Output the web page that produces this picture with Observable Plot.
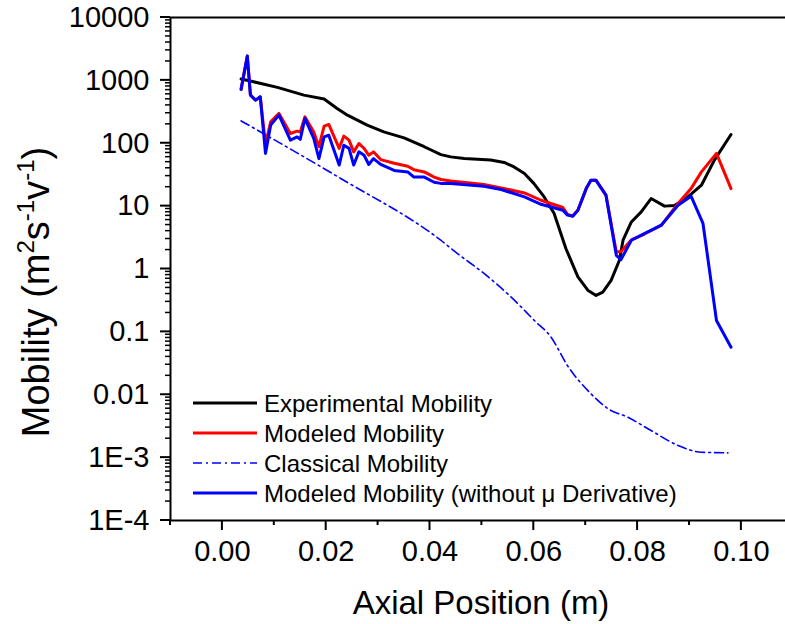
<!DOCTYPE html>
<html><head><meta charset="utf-8">
<script src="https://cdn.jsdelivr.net/npm/d3@7"></script>
<script src="https://cdn.jsdelivr.net/npm/@observablehq/plot@0.6"></script>
<style>body{margin:0;background:#fff;overflow:hidden}</style>
</head><body><div id="chart"></div>
<script>
// Experimental Mobility (black)
const expX = [0.0036,0.0054,0.0106,0.0157,0.0196,0.0221,0.0241,0.0279,0.0311,0.035,0.0389,0.0421,0.044,0.0466,0.0517,0.0543,0.0562,0.0582,0.060,0.062,0.0639,0.0662,0.0685,0.0704,0.072,0.0733,0.0749,0.0765,0.0772,0.0788,0.0807,0.0826,0.0852,0.0871,0.0897,0.0923,0.0948,0.098];
const expY = [1050,975,774,583,504,358,280,194,152,122,88,66,60.7,57,54,49.5,42,33,23,14,7.7,2.1,0.75,0.46,0.38,0.43,0.66,1.38,2.87,5.6,8.1,13.2,10,10.2,14,21.5,54,138];
// Modeled Mobility (red)
const modX = [0.0036,0.0048,0.0054,0.0064,0.0073,0.0083,0.0093,0.0109,0.0131,0.0144,0.015,0.0159,0.0176,0.0186,0.0196,0.0205,0.0225,0.0234,0.0244,0.0253,0.0263,0.0273,0.0282,0.0291,0.0305,0.0331,0.0357,0.0369,0.0389,0.0408,0.0421,0.044,0.0504,0.0537,0.0582,0.0614,0.0656,0.0665,0.0675,0.0685,0.0701,0.071,0.072,0.0739,0.0759,0.0768,0.0788,0.0813,0.0846,0.0878,0.0903,0.0923,0.0952,0.098];
const modY = [719,2440,583,485,548,95,220,298,143,156,151,263,151,88,187,199,83,130,112,73,99,83,64.5,73,55,48,43,38,35,29,26.5,25,22,19.5,16.2,12.4,9.5,7.4,7.0,8.6,19,25.7,25.7,15,1.87,1.9,2.9,3.6,5.0,11,19,35,69,19];
// Classical Mobility (blue dash-dot)
const clsX = [0.0036,0.0228,0.0420,0.0453,0.0504,0.0556,0.0601,0.0633,0.0665,0.071,0.0743,0.0781,0.0826,0.0878,0.0923,0.0974];
const clsY = [227,27.5,2.9,1.76,0.85,0.36,0.152,0.083,0.029,0.0104,0.006,0.0044,0.0027,0.00156,0.00122,0.00119];
// Modeled Mobility without mu derivative (blue)
const nodX = [0.0036,0.0048,0.0054,0.0064,0.0073,0.0083,0.0093,0.0109,0.0131,0.0144,0.015,0.0159,0.0176,0.0186,0.0196,0.0205,0.0225,0.0234,0.0244,0.0253,0.0263,0.0273,0.0282,0.0291,0.0305,0.0331,0.0357,0.0369,0.0389,0.0408,0.0421,0.044,0.0504,0.0537,0.0582,0.0614,0.0656,0.0665,0.0675,0.0685,0.0701,0.071,0.072,0.0739,0.0759,0.0768,0.0788,0.0813,0.0846,0.0878,0.0903,0.0926,0.0952,0.098];
const nodY = [719,2440,583,485,548,69,194,280,112,126,115,248,119,57,126,134,45,93,83,45,73,64.5,46,57,46,37,35,29,29,24,23,23,20.7,18.4,14,10.7,8.6,7.2,6.9,8.6,19,25.7,25.7,15,1.65,1.41,2.87,3.66,5.0,10.3,14.4,5.3,0.152,0.057];

const seriesNames = ["Experimental Mobility","Modeled Mobility","Classical Mobility","Modeled Mobility (without \u03bc Derivative)"];
const seriesColors = ["#000000","#ff0000","#0000ff","#0000ff"];

const yTicks = [1e4,1e3,100,10,1,0.1,0.01,1e-3,1e-4];
const yTickLabels = ["10000","1000","100","10","1","0.1","0.01","1E-3","1E-4"];
const xTicks = [0,0.02,0.04,0.06,0.08,0.10];
const xTickLabels = ["0.00","0.02","0.04","0.06","0.08","0.10"];
const xMinorTicks = [-0.01,0.01,0.03,0.05,0.07,0.09];
const yMinorMultipliers = [2,3,4,5,6,7,8,9];
const xDomain = [-0.01, 0.1085];
const yDomain = [1e-4, 1e4];

const yMinorTicks = [];
for (let k = -4; k < 4; k++) for (const m of yMinorMultipliers) yMinorTicks.push(m * Math.pow(10, k));

const rows = (xs, ys) => xs.map((x, i) => ({x, y: ys[i]}));
const expData = rows(expX, expY), modData = rows(modX, modY), clsData = rows(clsX, clsY), nodData = rows(nodX, nodY);

const W = 785, H = 624, ML = 170, MR = 0, MT = 17, MB = 104;
const font = "'Liberation Sans', Arial, Helvetica, sans-serif";
const chart = Plot.plot({
  width: W, height: H,
  marginLeft: ML, marginRight: MR, marginTop: MT, marginBottom: MB,
  style: {fontFamily: font, background: "white", color: "black", maxWidth: "none"},
  x: {domain: xDomain, axis: null},
  y: {type: "log", domain: yDomain, axis: null},
  marks: [
    Plot.line(expData, {x: "x", y: "y", stroke: seriesColors[0], strokeWidth: 3}),
    Plot.line(modData, {x: "x", y: "y", stroke: seriesColors[1], strokeWidth: 3}),
    Plot.line(clsData, {x: "x", y: "y", stroke: seriesColors[2], strokeWidth: 1.6, strokeDasharray: "9,4,2,4", curve: "monotone-x"}),
    Plot.line(nodData, {x: "x", y: "y", stroke: seriesColors[3], strokeWidth: 3}),
    Plot.ruleX([xDomain[0]], {stroke: "black", strokeWidth: 2}),
    Plot.ruleY([yDomain[0], yDomain[1]], {stroke: "black", strokeWidth: 2}),
    Plot.text(yTicks, {x: xDomain[0], y: d => d, text: d => yTickLabels[yTicks.indexOf(d)], textAnchor: "end", dx: -21, fontSize: 29, fill: "black"}),
    Plot.text(xTicks, {x: d => d, y: yDomain[0], text: d => xTickLabels[xTicks.indexOf(d)], dy: 31, fontSize: 29, fill: "black"})
  ]
});
document.getElementById("chart").appendChild(chart);

const svg = d3.select(chart);
const sx = v => chart.scale("x").apply(v);
const sy = v => chart.scale("y").apply(v);
const x0 = sx(xDomain[0]), y0 = sy(yDomain[0]);
// axis tick marks (outward) positioned with Plot's own scales
const tg = svg.append("g").attr("stroke", "black");
yTicks.forEach(v => tg.append("line").attr("x1", x0 - 10).attr("x2", x0).attr("y1", sy(v)).attr("y2", sy(v)).attr("stroke-width", 2));
yMinorTicks.forEach(v => tg.append("line").attr("x1", x0 - 5).attr("x2", x0).attr("y1", sy(v)).attr("y2", sy(v)).attr("stroke-width", 1.5));
xTicks.forEach(v => tg.append("line").attr("x1", sx(v)).attr("x2", sx(v)).attr("y1", y0).attr("y2", y0 + 10).attr("stroke-width", 2));
xMinorTicks.forEach(v => tg.append("line").attr("x1", sx(v)).attr("x2", sx(v)).attr("y1", y0).attr("y2", y0 + 5).attr("stroke-width", 2));

// x axis title
svg.append("text").attr("x", 481).attr("y", 614).attr("text-anchor", "middle")
  .attr("font-size", 33).attr("font-family", font).attr("fill", "black").text("Axial Position (m)");
// y axis title with superscripts
const yt = svg.append("text").attr("transform", "translate(49,292) rotate(-90)")
  .attr("text-anchor", "middle").attr("font-size", 38).attr("font-family", font).attr("fill", "black");
yt.append("tspan").text("Mobility (m");
yt.append("tspan").attr("font-size", 24).attr("dy", -15).text("2");
yt.append("tspan").attr("dy", 15).text("s");
yt.append("tspan").attr("font-size", 24).attr("dy", -15).text("-1");
yt.append("tspan").attr("dy", 15).text("v");
yt.append("tspan").attr("font-size", 24).attr("dy", -15).text("-1");
yt.append("tspan").attr("dy", 15).text(")");
// legend
const lg = svg.append("g").attr("text-anchor", "start");
seriesNames.forEach((name, i) => {
  const y = 403 + i * 30;
  lg.append("line").attr("x1", 193).attr("x2", 257).attr("y1", y).attr("y2", y)
    .attr("stroke", seriesColors[i]).attr("stroke-width", i === 2 ? 1.6 : 3)
    .attr("stroke-dasharray", i === 2 ? "9,4,2,4" : null);
  lg.append("text").attr("x", 264).attr("y", y + 8.5).attr("font-size", 24)
    .attr("text-anchor", "start").attr("font-family", font).attr("fill", "black").text(name);
});
</script></body></html>
